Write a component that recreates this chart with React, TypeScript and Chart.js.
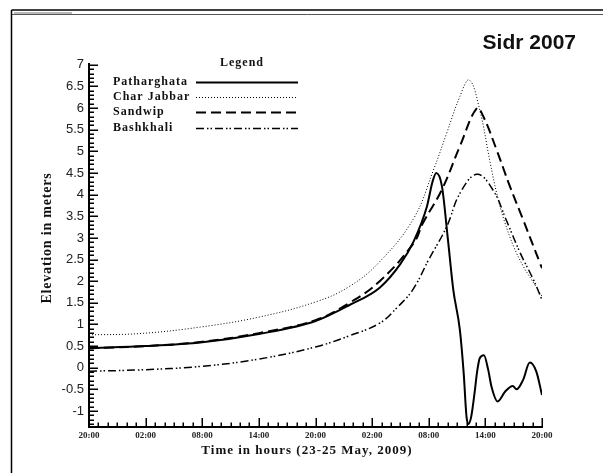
import React, { useEffect, useRef } from "react";
import { Chart, registerables } from "chart.js";

Chart.register(...registerables);

// ---- data (hours since 20:00, 23 May) ----
const X_TICK_HOURS = [0, 6, 12, 18, 24, 30, 36, 42, 48];
const X_TICK_LABELS = ["20:00", "02:00", "08:00", "14:00", "20:00", "02:00", "08:00", "14:00", "20:00"];
const Y_TICKS = [-1, -0.5, 0, 0.5, 1, 1.5, 2, 2.5, 3, 3.5, 4, 4.5, 5, 5.5, 6, 6.5, 7];

const SERIES_NAMES = ["Patharghata", "Char Jabbar", "Sandwip", "Bashkhali"];

const PATHARGHATA_HOURS = [0, 6, 12, 18, 24, 27.6, 30.8, 33, 34.4, 35.8, 36.4, 36.8, 37.4, 38.0, 38.6, 39.3, 39.7, 40.0, 40.2, 40.5, 40.9, 41.1, 41.4, 41.85, 42.3, 42.65, 43.3, 44.1, 44.9, 45.3, 46.0, 46.7, 47.4, 48];
const PATHARGHATA_VALUES = [0.45, 0.5, 0.59, 0.78, 1.08, 1.45, 1.85, 2.4, 2.92, 3.72, 4.3, 4.5, 4.19, 3.03, 1.8, 0.87, -0.12, -1.13, -1.3, -1.13, -0.5, -0.13, 0.22, 0.29, -0.05, -0.44, -0.78, -0.55, -0.42, -0.5, -0.28, 0.12, -0.09, -0.63];

const CHARJABBAR_HOURS = [0, 5.4, 11.8, 18, 24, 27.6, 30.8, 34.4, 36.5, 37.9, 39.3, 40.3, 41.4, 42.5, 43.2, 44, 45, 46, 47, 48];
const CHARJABBAR_VALUES = [0.76, 0.79, 0.94, 1.17, 1.52, 1.88, 2.45, 3.45, 4.57, 5.42, 6.27, 6.65, 5.96, 4.75, 4.03, 3.4, 2.8, 2.35, 2.0, 1.65];

const SANDWIP_HOURS = [0, 6, 12, 18, 24, 27.6, 30.8, 34.4, 35.4, 37.4, 39.3, 41.1, 41.8, 43.2, 44.6, 46.0, 47.8, 48];
const SANDWIP_VALUES = [0.45, 0.5, 0.6, 0.8, 1.1, 1.5, 2.0, 2.88, 3.35, 4.12, 5.12, 6.0, 5.8, 5.03, 4.19, 3.42, 2.41, 2.3];

const BASHKHALI_HOURS = [0, 5.4, 11.8, 18, 24, 27.6, 30.8, 32.6, 34.3, 36, 37.9, 39.3, 41.1, 42.8, 44.2, 45.7, 47.1, 48];
const BASHKHALI_VALUES = [-0.08, -0.05, 0.03, 0.2, 0.48, 0.74, 1.03, 1.38, 1.8, 2.5, 3.26, 4.03, 4.47, 4.11, 3.42, 2.65, 2.03, 1.57];

const DASHES: number[][] = [[], [1, 2], [10, 5], [8, 3, 1.5, 2, 1.5, 3]];
const WIDTHS = [2, 1, 2, 1.5];

const SERIF = "'Liberation Serif', 'Times New Roman', serif";
const SANS = "'Liberation Sans', Arial, sans-serif";

const pts = (hs: number[], vs: number[]) => hs.map((h, i) => ({ x: h, y: vs[i] }));

const decorPlugin = {
  id: "decor",
  beforeDraw(chart: any) {
    const ctx = chart.ctx;
    ctx.save();
    ctx.fillStyle = "#fff";
    ctx.fillRect(0, 0, chart.width, chart.height);
    ctx.strokeStyle = "#000";
    ctx.lineWidth = 1.5;
    ctx.beginPath();
    ctx.moveTo(11.5, 10);
    ctx.lineTo(chart.width, 10);
    ctx.moveTo(11.5, 10);
    ctx.lineTo(11.5, chart.height);
    ctx.stroke();
    ctx.lineWidth = 1;
    ctx.strokeStyle = "#555";
    ctx.beginPath();
    ctx.moveTo(12, 14.5);
    ctx.lineTo(chart.width, 14.5);
    ctx.stroke();
    ctx.fillStyle = "#b8b8b8";
    ctx.fillRect(14, 12, 58, 2);
    ctx.restore();
  },
  afterDraw(chart: any) {
    const ctx = chart.ctx;
    const { left, bottom } = chart.chartArea;
    const xs = chart.scales.x;
    const ys = chart.scales.y;
    ctx.save();
    ctx.strokeStyle = "#000";
    ctx.lineWidth = 1.5;
    ctx.beginPath();
    for (let k = Math.ceil(ys.min * 10); k <= Math.floor(ys.max * 10); k++) {
      const y = Math.round(ys.getPixelForValue(k / 10)) + 0.25;
      const len = k % 5 === 0 ? 9 : 5;
      ctx.moveTo(left, y);
      ctx.lineTo(left + len, y);
    }
    for (let h = xs.min; h <= xs.max; h++) {
      const x = Math.round(xs.getPixelForValue(h)) + 0.25;
      const len = h % 6 === 0 ? 9 : 4.5;
      ctx.moveTo(x, bottom);
      ctx.lineTo(x, bottom - len);
    }
    ctx.stroke();

    // title
    ctx.fillStyle = "#111";
    ctx.font = `bold 21px ${SANS}`;
    ctx.textAlign = "right";
    ctx.textBaseline = "alphabetic";
    ctx.fillText("Sidr 2007", 576, 49);

    // legend
    ctx.textAlign = "left";
    ctx.textBaseline = "middle";
    ctx.font = `bold 12px ${SERIF}`;
    (ctx as any).letterSpacing = "1px";
    ctx.fillText("Legend", 220, 63);
    const rows = [82, 97, 112, 128];
    SERIES_NAMES.forEach((name, i) => {
      ctx.fillStyle = "#111";
      ctx.fillText(name, 113, rows[i]);
      ctx.beginPath();
      ctx.setLineDash(DASHES[i]);
      ctx.lineWidth = WIDTHS[i];
      ctx.moveTo(196, rows[i] + 0.5);
      ctx.lineTo(298, rows[i] + 0.5);
      ctx.stroke();
    });
    ctx.setLineDash([]);

    // x title
    ctx.textAlign = "center";
    ctx.font = `bold 13px ${SERIF}`;
    ctx.fillText("Time in hours (23-25 May, 2009)", 307, 451);

    // y title
    (ctx as any).letterSpacing = "0.8px";
    ctx.translate(47, 238);
    ctx.rotate(-Math.PI / 2);
    ctx.font = `bold 14px ${SERIF}`;
    ctx.fillText("Elevation in meters", 0, 0);
    ctx.restore();
  },
};

export default function App() {
  const ref = useRef<HTMLCanvasElement | null>(null);
  useEffect(() => {
    if (!ref.current) return;
    const seriesPts = [
      pts(PATHARGHATA_HOURS, PATHARGHATA_VALUES),
      pts(CHARJABBAR_HOURS, CHARJABBAR_VALUES),
      pts(SANDWIP_HOURS, SANDWIP_VALUES),
      pts(BASHKHALI_HOURS, BASHKHALI_VALUES),
    ];
    const chart = new Chart(ref.current, {
      type: "line",
      data: {
        datasets: seriesPts.map((d, i) => ({
          label: SERIES_NAMES[i],
          data: d,
          borderColor: "#000",
          borderWidth: WIDTHS[i],
          borderDash: DASHES[i],
          pointRadius: 0,
          fill: false,
          tension: 0.4,
          cubicInterpolationMode: i === 0 ? ("monotone" as const) : ("default" as const),
        })),
      },
      options: {
        animation: false,
        responsive: false,
        devicePixelRatio: 1,
        layout: { padding: { left: 0, right: 61, top: 64, bottom: 0 } },
        plugins: { legend: { display: false }, title: { display: false }, tooltip: { enabled: false } },
        scales: {
          x: {
            type: "linear",
            min: 0,
            max: 48,
            grid: { display: false, drawTicks: false },
            border: { display: true, color: "#000", width: 2 },
            afterBuildTicks: (scale: any) => {
              scale.ticks = X_TICK_HOURS.map((value) => ({ value }));
            },
            afterFit: (scale: any) => {
              scale.height = 46;
            },
            ticks: {
              autoSkip: false,
              maxRotation: 0,
              padding: 3,
              color: "#222",
              font: { family: SERIF, size: 9, weight: "bold" },
              callback: (_v: any, i: number) => X_TICK_LABELS[i],
            },
          },
          y: {
            type: "linear",
            min: -1.37,
            max: 7.02,
            grid: { display: false, drawTicks: false },
            border: { display: true, color: "#000", width: 2 },
            afterBuildTicks: (scale: any) => {
              scale.ticks = Y_TICKS.map((value) => ({ value }));
            },
            afterFit: (scale: any) => {
              scale.width = 89;
            },
            ticks: {
              padding: 5,
              color: "#222",
              font: { family: SANS, size: 13 },
              callback: (v: any) => String(v),
            },
          },
        },
      },
      plugins: [decorPlugin],
    });
    return () => chart.destroy();
  }, []);
  return (
    <div style={{ position: "fixed", left: 0, top: 0, width: 603, height: 473, background: "#fff" }}>
      <canvas ref={ref} width={603} height={473} />
    </div>
  );
}
